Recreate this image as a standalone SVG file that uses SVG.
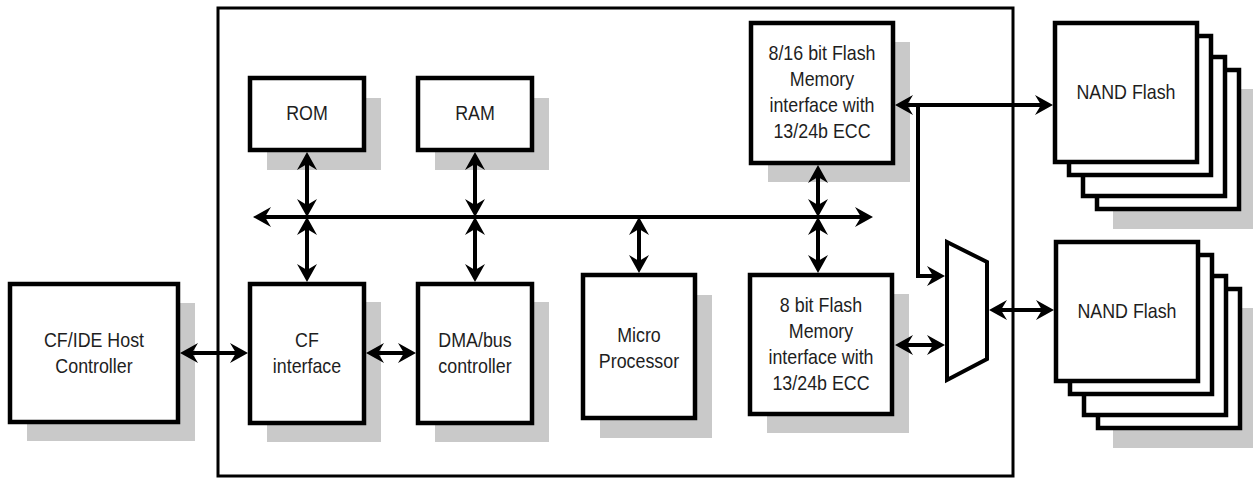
<svg xmlns="http://www.w3.org/2000/svg" width="1253" height="481" viewBox="0 0 1253 481">
<style>
.box{fill:#fff;stroke:#000;stroke-width:4.5}
.sh{fill:#c9c9c9}
.t{font-family:"Liberation Sans",Arial,sans-serif;font-size:21px;fill:#1e1e1e;text-anchor:middle}
.c{fill:none;stroke:#000;stroke-width:4}
</style>
<defs>
<marker id="ah" viewBox="0 0 18 20" refX="13" refY="10" markerWidth="18" markerHeight="20" markerUnits="userSpaceOnUse" orient="auto-start-reverse">
<path d="M0,0 L18,10 L0,20 L6,10 Z" fill="#000"/>
</marker>
</defs>
<rect width="1253" height="481" fill="#fff"/>
<g id="container"><rect x="218" y="8" width="795" height="468" fill="none" stroke="#000" stroke-width="3"/></g>

<g id="host">
<rect class="sh" x="27" y="303" width="168" height="138"/>
<rect class="box" x="10" y="284" width="168" height="138"/>
<text class="t" transform="translate(94 347) scale(0.85 1)">CF/IDE Host</text>
<text class="t" transform="translate(94 373) scale(0.85 1)">Controller</text>
</g>

<g id="rom">
<rect class="sh" x="267" y="98" width="114" height="72"/>
<rect class="box" x="250" y="78" width="114" height="72"/>
<text class="t" transform="translate(307 120) scale(0.85 1)">ROM</text>
</g>
<g id="ram">
<rect class="sh" x="435" y="98" width="114" height="72"/>
<rect class="box" x="418" y="78" width="114" height="72"/>
<text class="t" transform="translate(475 120) scale(0.85 1)">RAM</text>
</g>

<g id="cf">
<rect class="sh" x="267" y="302" width="114" height="140"/>
<rect class="box" x="250" y="284" width="114" height="139"/>
<text class="t" transform="translate(307 347) scale(0.85 1)">CF</text>
<text class="t" transform="translate(307 373) scale(0.85 1)">interface</text>
</g>
<g id="dma">
<rect class="sh" x="435" y="302" width="114" height="140"/>
<rect class="box" x="418" y="284" width="114" height="139"/>
<text class="t" transform="translate(475 347) scale(0.85 1)">DMA/bus</text>
<text class="t" transform="translate(475 373) scale(0.85 1)">controller</text>
</g>
<g id="micro">
<rect class="sh" x="600" y="295" width="112" height="143"/>
<rect class="box" x="583" y="275" width="112" height="143"/>
<text class="t" transform="translate(639 342) scale(0.85 1)">Micro</text>
<text class="t" transform="translate(639 368) scale(0.85 1)">Processor</text>
</g>

<g id="flash16">
<rect class="sh" x="768" y="42" width="142" height="140"/>
<rect class="box" x="751" y="23" width="142" height="140"/>
<text class="t" transform="translate(822 60) scale(0.85 1)">8/16 bit Flash</text>
<text class="t" transform="translate(822 86) scale(0.85 1)">Memory</text>
<text class="t" transform="translate(822 112) scale(0.85 1)">interface with</text>
<text class="t" transform="translate(822 138) scale(0.85 1)">13/24b ECC</text>
</g>
<g id="flash8">
<rect class="sh" x="767" y="294" width="142" height="139"/>
<rect class="box" x="750" y="275" width="142" height="139"/>
<text class="t" transform="translate(821 312) scale(0.85 1)">8 bit Flash</text>
<text class="t" transform="translate(821 338) scale(0.85 1)">Memory</text>
<text class="t" transform="translate(821 364) scale(0.85 1)">interface with</text>
<text class="t" transform="translate(821 390) scale(0.85 1)">13/24b ECC</text>
</g>

<g id="mux">
<polygon points="947,242 987,262 987,359 947,380" fill="#fff" stroke="#000" stroke-width="4" stroke-linejoin="miter"/>
</g>

<g id="nand1">
<rect class="sh" x="1113" y="89" width="142" height="140"/>
<rect class="box" x="1097" y="70" width="142" height="139"/>
<rect class="box" x="1083" y="57" width="142" height="139"/>
<rect class="box" x="1069" y="36" width="142" height="139"/>
<rect class="box" x="1055" y="23" width="142" height="139"/>
<text class="t" transform="translate(1126 99) scale(0.85 1)">NAND Flash</text>
</g>
<g id="nand2">
<rect class="sh" x="1113" y="308" width="142" height="140"/>
<rect class="box" x="1098" y="289" width="142" height="139"/>
<rect class="box" x="1084" y="276" width="142" height="139"/>
<rect class="box" x="1070" y="255" width="142" height="139"/>
<rect class="box" x="1056" y="242" width="142" height="139"/>
<text class="t" transform="translate(1127 318) scale(0.85 1)">NAND Flash</text>
</g>

<g id="connectors">
<line class="c" x1="185" y1="353" x2="243" y2="353" marker-start="url(#ah)" marker-end="url(#ah)"/>
<line class="c" x1="371" y1="353" x2="411" y2="353" marker-start="url(#ah)" marker-end="url(#ah)"/>
<line class="c" x1="258" y1="217" x2="868" y2="217" marker-start="url(#ah)" marker-end="url(#ah)"/>
<line class="c" x1="307" y1="157" x2="307" y2="212" marker-start="url(#ah)" marker-end="url(#ah)"/>
<line class="c" x1="307" y1="222" x2="307" y2="277" marker-start="url(#ah)" marker-end="url(#ah)"/>
<line class="c" x1="475" y1="157" x2="475" y2="212" marker-start="url(#ah)" marker-end="url(#ah)"/>
<line class="c" x1="475" y1="222" x2="475" y2="277" marker-start="url(#ah)" marker-end="url(#ah)"/>
<line class="c" x1="639" y1="222" x2="639" y2="268" marker-start="url(#ah)" marker-end="url(#ah)"/>
<line class="c" x1="818" y1="170" x2="818" y2="212" marker-start="url(#ah)" marker-end="url(#ah)"/>
<line class="c" x1="818" y1="222" x2="818" y2="268" marker-start="url(#ah)" marker-end="url(#ah)"/>
<line class="c" x1="900" y1="105" x2="1048" y2="105" marker-start="url(#ah)" marker-end="url(#ah)"/>
<path class="c" d="M918,105 V276 H940" marker-end="url(#ah)"/>
<line class="c" x1="900" y1="345" x2="940" y2="345" marker-start="url(#ah)" marker-end="url(#ah)"/>
<line class="c" x1="994" y1="310" x2="1049" y2="310" marker-start="url(#ah)" marker-end="url(#ah)"/>
</g>
</svg>
